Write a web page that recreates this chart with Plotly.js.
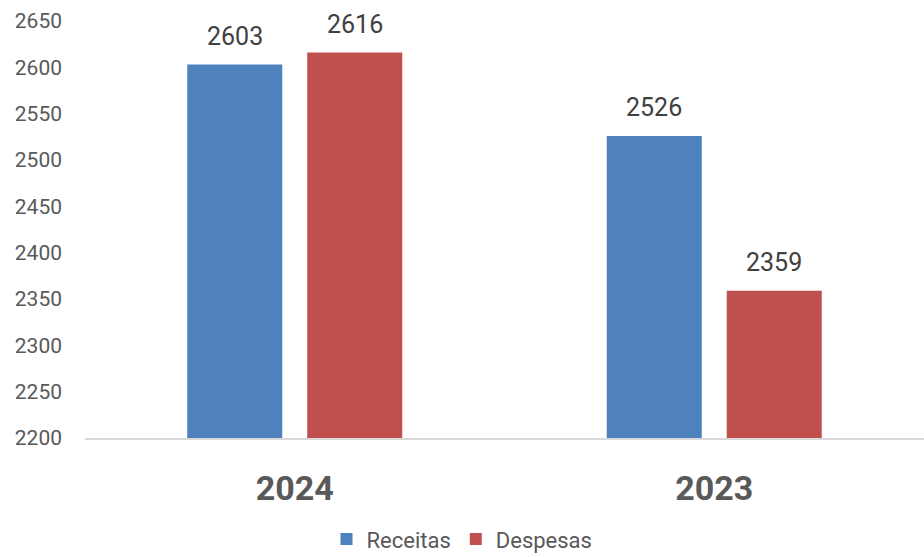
<!DOCTYPE html>
<html>
<head>
<meta charset="utf-8">
<script src="https://cdn.plot.ly/plotly-3.0.1.min.js"></script>
<style>html,body{margin:0;padding:0;background:#fff;}#chart{width:924px;height:557px;}</style>
</head>
<body>
<div id="chart"></div>
<script>
const categories = ["2024", "2023"];
const receitas = [2603, 2526];
const despesas = [2616, 2359];
const seriesNames = ["Receitas", "Despesas"];
const yTicks = [2200, 2250, 2300, 2350, 2400, 2450, 2500, 2550, 2600, 2650];

const font = "Roboto, 'Liberation Sans', Arial, sans-serif";
const mk = (name, vals, color) => ({
  type: "bar", name: name, x: categories, y: vals,
  marker: {color: color},
  cliponaxis: false, hoverinfo: "none"
});
const data = [mk(seriesNames[0], receitas, "#4F81BD"), mk(seriesNames[1], despesas, "#C0504D")];

const annotations = [];
[[receitas, -60], [despesas, 60]].forEach(([vals, dx]) => {
  vals.forEach((v, i) => annotations.push({
    x: i, y: v, xref: "x", yref: "y", text: String(v),
    showarrow: false, yanchor: "bottom", xshift: dx, yshift: 12,
    font: {size: 25, color: "#404040", family: font}
  }));
});

const layout = {
  width: 924, height: 557,
  margin: {l: 85, r: 0, t: 21, b: 119},
  paper_bgcolor: "#fff", plot_bgcolor: "#fff",
  barmode: "group", bargap: 0.428, bargroupgap: 0.208,
  font: {family: font, color: "#595959"},
  annotations: annotations,
  xaxis: {
    type: "category", range: [-0.5, 1.5], showline: true, linecolor: "#d9d9d9", linewidth: 1.5,
    ticks: "", showgrid: false, zeroline: false,
    tickfont: {size: 34, color: "#595959", family: font, weight: "bold"},
    ticklabelstandoff: 20
  },
  yaxis: {
    range: [2200, 2650], tickvals: yTicks, ticktext: yTicks.map(String),
    showgrid: false, zeroline: false, showline: false, ticks: "",
    tickfont: {size: 21, color: "#595959", family: font},
    ticklabelstandoff: 22
  },
  showlegend: true,
  legend: {
    orientation: "h", x: 0.5, xanchor: "center", xref: "container",
    y: 0.032, yanchor: "middle", yref: "container",
    font: {size: 22, color: "#595959", family: font},
    itemwidth: 30, traceorder: "normal"
  }
};
Plotly.newPlot("chart", data, layout, {staticPlot: true});
</script>
</body>
</html>
